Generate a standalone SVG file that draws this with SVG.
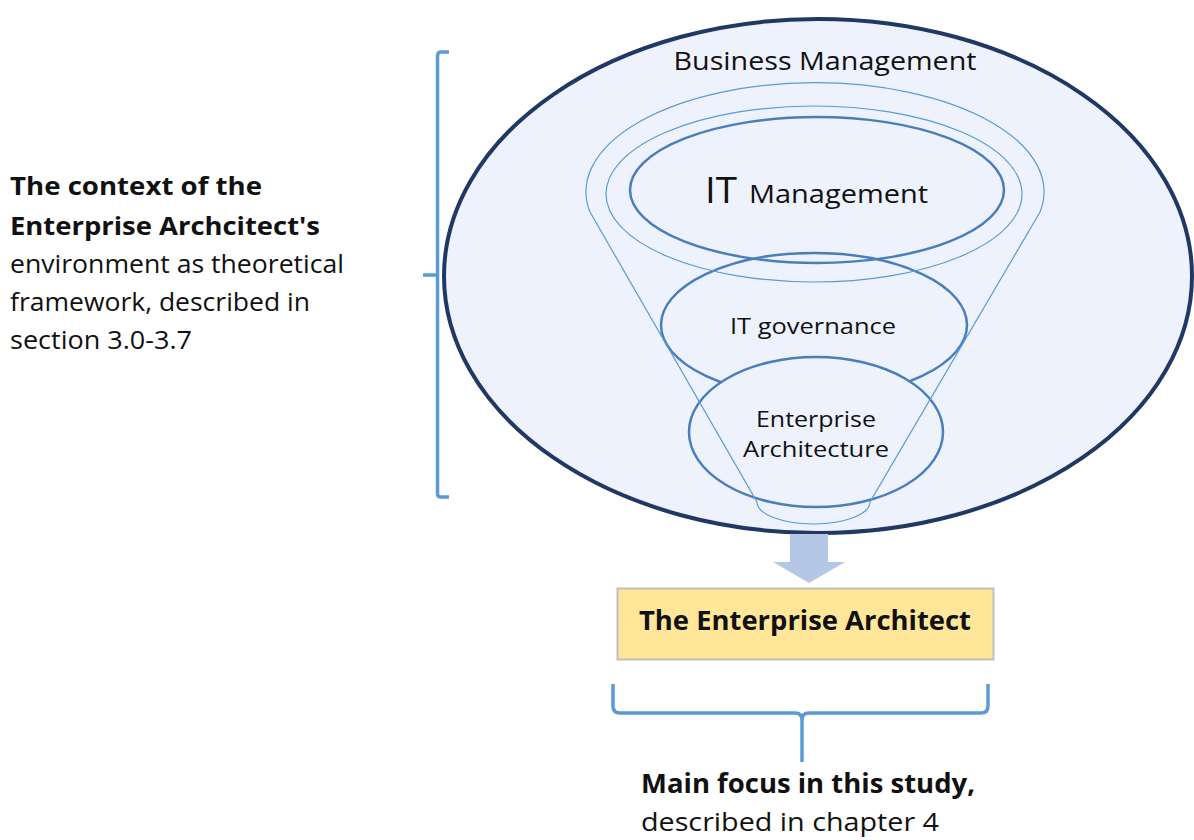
<svg xmlns="http://www.w3.org/2000/svg" width="1194" height="840" viewBox="0 0 1194 840">
<style>
text{font-family:"Open Sans","Liberation Sans",sans-serif;fill:#111;}
.b{font-weight:bold;}
.brk{fill:none;stroke:#5B9BD5;stroke-width:3.5;}
.mid{fill:#EDF2FD;stroke:#4A7EBB;stroke-width:2.5;}
.thin{fill:none;stroke:#5B9BD5;stroke-width:1.2;}
</style>
<rect width="1194" height="840" fill="#fff"/>
<g id="context-text">
<text x="10" y="195" font-size="25" class="b" textLength="252" lengthAdjust="spacingAndGlyphs">The context of the</text>
<text x="10" y="235" font-size="25" class="b" textLength="310" lengthAdjust="spacingAndGlyphs">Enterprise Archcitect's</text>
<text x="10" y="273" font-size="25" textLength="334" lengthAdjust="spacingAndGlyphs">environment as theoretical</text>
<text x="10" y="311" font-size="25" textLength="300" lengthAdjust="spacingAndGlyphs">framework, described in</text>
<text x="10" y="349" font-size="25" textLength="182" lengthAdjust="spacingAndGlyphs">section 3.0-3.7</text>
</g>
<g id="left-bracket">
<path class="brk" d="M449,52 L441,52 Q437.5,52 437.5,56 L437.5,494 Q437.5,497 441,497 L449,497 M423,275 L437.5,275"/>
</g>
<g id="business-management">
<ellipse cx="818" cy="276" rx="374" ry="257" fill="#EDF2FD" stroke="#203864" stroke-width="4"/>
<text x="825" y="70" font-size="26" text-anchor="middle" textLength="303" lengthAdjust="spacingAndGlyphs">Business Management</text>
</g>
<g id="it-governance">
<ellipse class="mid" cx="814" cy="325" rx="153" ry="72"/>
<text x="813" y="334" font-size="22" text-anchor="middle" textLength="166" lengthAdjust="spacingAndGlyphs">IT governance</text>
</g>
<g id="enterprise-architecture">
<ellipse class="mid" cx="816" cy="432" rx="127" ry="75"/>
<text x="816" y="427" font-size="22" text-anchor="middle" textLength="120" lengthAdjust="spacingAndGlyphs">Enterprise</text>
<text x="816" y="457" font-size="22" text-anchor="middle" textLength="146" lengthAdjust="spacingAndGlyphs">Architecture</text>
</g>
<g id="funnel">
<path class="thin" d="M590,212 A229,109 0 1 1 1040,212 L870,502 A56.5,22 0 0 1 757,502 Z"/>
<ellipse class="thin" cx="814" cy="194" rx="208" ry="88"/>
</g>
<g id="it-management">
<ellipse cx="817" cy="190" rx="187" ry="73" fill="none" stroke="#4A7EBB" stroke-width="2.5"/>
<text x="705" y="203" font-size="36" textLength="32" lengthAdjust="spacingAndGlyphs">IT</text>
<text x="749" y="203" font-size="25" textLength="179" lengthAdjust="spacingAndGlyphs">Management</text>
</g>
<g id="connectors">
<path d="M790,534 L828,534 L828,562 L845,562 L809,583 L773,562 L790,562 Z" fill="#B4C7E7"/>
</g>
<g id="enterprise-architect">
<rect x="617.5" y="588.5" width="376" height="71" fill="#FFE699" stroke="#BFBFBF" stroke-width="2"/>
<text x="805" y="630" font-size="26" class="b" text-anchor="middle" textLength="332" lengthAdjust="spacingAndGlyphs">The Enterprise Architect</text>
</g>
<g id="bottom-bracket">
<path class="brk" d="M613,684 L613,706 Q613,713 620,713 L795,713 Q802,713 802,720 L802,762 M802,720 Q802,713 809,713 L981,713 Q988,713 988,706 L988,684"/>
</g>
<g id="focus-text">
<text x="641" y="793" font-size="26" class="b" textLength="334" lengthAdjust="spacingAndGlyphs">Main focus in this study,</text>
<text x="641" y="831" font-size="26" textLength="298" lengthAdjust="spacingAndGlyphs">described in chapter 4</text>
</g>
</svg>
